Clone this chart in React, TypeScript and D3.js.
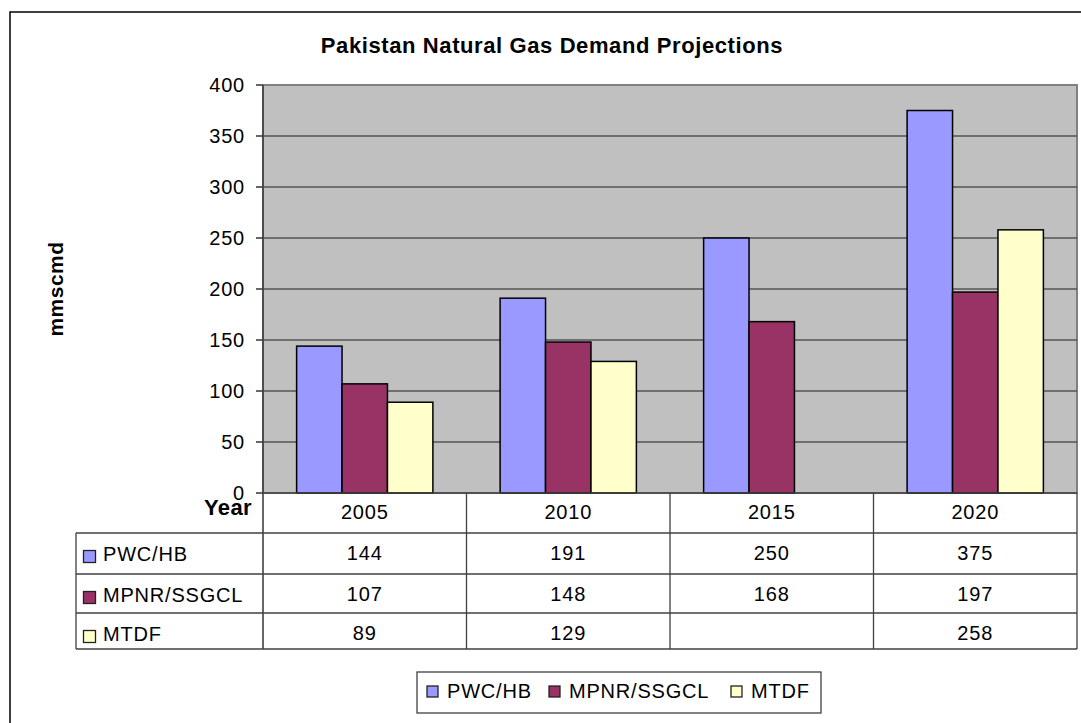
import * as d3 from "d3";

const YEARS = ["2005", "2010", "2015", "2020"];
const SERIES = ["PWC/HB", "MPNR/SSGCL", "MTDF"];
const PWC_HB = [144, 191, 250, 375];
const MPNR_SSGCL = [107, 148, 168, 197];
const MTDF: (number | null)[] = [89, 129, null, 258];
const COLORS = ["#9999FF", "#993366", "#FFFFCC"];

const TITLE = "Pakistan Natural Gas Demand Projections";
const Y_LABEL = "mmscmd";

const FONT = "'Liberation Sans', Arial, sans-serif";

// plot area (px)
const PLOT = { left: 263, right: 1077, top: 85, bottom: 493 };
const ROWS = [493, 533, 574, 613, 649]; // table row edges
const TABLE_LEFT = 76;
const LEGEND = { x: 417, y: 672, w: 404, h: 41, items: [427, 549, 731] };

export default function App() {
  const values = [PWC_HB, MPNR_SSGCL, MTDF];

  const yScale = d3.scaleLinear().domain([0, 400]).range([PLOT.bottom, PLOT.top]);
  const xScale = d3.scaleBand().domain(YEARS).range([PLOT.left, PLOT.right]).padding(0);
  const inner = d3
    .scaleBand()
    .domain(SERIES)
    .range([0, xScale.bandwidth()])
    .paddingInner(0)
    .paddingOuter(0.74);

  const ticks = yScale.ticks(8);

  return (
    <div style={{ position: "absolute", left: 0, top: 0 }}>
      <svg width={1081} height={723} style={{ display: "block", fontFamily: FONT }}>
        <rect x={0} y={0} width={1081} height={723} fill="#fff" />
        {/* outer frame, runs off the right and bottom edges */}
        <rect x={10} y={12} width={1200} height={900} fill="none" stroke="#000" strokeWidth={1.5} />

        <text x={552} y={53} textAnchor="middle" fontSize={22} fontWeight="bold" letterSpacing={0.6}>
          {TITLE}
        </text>

        <text
          transform={`translate(63,${(PLOT.top + PLOT.bottom) / 2}) rotate(-90)`}
          textAnchor="middle"
          fontSize={21}
          fontWeight="bold"
          letterSpacing={0.5}
        >
          {Y_LABEL}
        </text>

        {/* plot area */}
        <rect
          x={PLOT.left}
          y={PLOT.top}
          width={PLOT.right - PLOT.left}
          height={PLOT.bottom - PLOT.top}
          fill="#C0C0C0"
          stroke="#808080"
          strokeWidth={2}
        />
        {ticks
          .filter((t) => t > 0 && t < 400)
          .map((t) => (
            <line key={t} x1={PLOT.left} x2={PLOT.right} y1={yScale(t)} y2={yScale(t)} stroke="#555" strokeWidth={1.6} />
          ))}

        {/* bars */}
        {values.map((arr, si) => (
          <g key={SERIES[si]}>
            {arr.map((v, i) =>
              v == null ? null : (
                <rect
                  key={i}
                  x={(xScale(YEARS[i]) as number) + (inner(SERIES[si]) as number)}
                  y={yScale(v)}
                  width={inner.bandwidth()}
                  height={yScale(0) - yScale(v)}
                  fill={COLORS[si]}
                  stroke="#000"
                  strokeWidth={1.5}
                />
              )
            )}
          </g>
        ))}

        {/* y axis */}
        <line x1={PLOT.left} x2={PLOT.left} y1={PLOT.top} y2={ROWS[ROWS.length - 1]} stroke="#404040" strokeWidth={1.6} />
        {ticks.map((t) => (
          <g key={t}>
            <line x1={PLOT.left - 7} x2={PLOT.left} y1={yScale(t)} y2={yScale(t)} stroke="#404040" strokeWidth={1.6} />
            <text x={245} y={yScale(t) + 7} textAnchor="end" fontSize={20} letterSpacing={0.8}>
              {t}
            </text>
          </g>
        ))}

        {/* data table */}
        <line x1={PLOT.left} x2={PLOT.right} y1={ROWS[0]} y2={ROWS[0]} stroke="#404040" strokeWidth={1.6} />
        {ROWS.slice(1).map((r) => (
          <line key={r} x1={TABLE_LEFT} x2={PLOT.right} y1={r} y2={r} stroke="#404040" strokeWidth={1.3} />
        ))}
        <line x1={TABLE_LEFT} x2={TABLE_LEFT} y1={ROWS[1]} y2={ROWS[4]} stroke="#404040" strokeWidth={1.3} />
        {YEARS.map((y) => (
          <line
            key={y}
            x1={(xScale(y) as number) + xScale.bandwidth()}
            x2={(xScale(y) as number) + xScale.bandwidth()}
            y1={ROWS[0]}
            y2={ROWS[4]}
            stroke="#404040"
            strokeWidth={1.3}
          />
        ))}
        <text x={252} y={515} textAnchor="end" fontSize={22} fontWeight="bold" letterSpacing={0.4}>
          Year
        </text>
        {YEARS.map((y) => (
          <text
            key={y}
            x={(xScale(y) as number) + xScale.bandwidth() / 2}
            y={ROWS[0] + 26}
            textAnchor="middle"
            fontSize={20}
            letterSpacing={0.8}
          >
            {y}
          </text>
        ))}
        {SERIES.map((s, si) => (
          <g key={s}>
            <rect
              x={83.5}
              y={ROWS[si + 1] + 17.5}
              width={12}
              height={12}
              fill={COLORS[si]}
              stroke="#222"
              strokeWidth={1.3}
            />
            <text x={103} y={ROWS[si + 1] + 28} fontSize={20} letterSpacing={0.8}>
              {s}
            </text>
            {values[si].map((v, i) =>
              v == null ? null : (
                <text
                  key={i}
                  x={(xScale(YEARS[i]) as number) + xScale.bandwidth() / 2}
                  y={ROWS[si + 1] + 27}
                  textAnchor="middle"
                  fontSize={20}
                  letterSpacing={0.8}
                >
                  {v}
                </text>
              )
            )}
          </g>
        ))}

        {/* legend */}
        <rect x={LEGEND.x} y={LEGEND.y} width={LEGEND.w} height={LEGEND.h} fill="#fff" stroke="#404040" strokeWidth={1.3} />
        {SERIES.map((s, si) => (
          <g key={s}>
            <rect
              x={LEGEND.items[si]}
              y={686}
              width={11}
              height={11}
              fill={COLORS[si]}
              stroke="#222"
              strokeWidth={1.3}
            />
            <text x={LEGEND.items[si] + 20} y={698} fontSize={20} letterSpacing={0.8}>
              {s}
            </text>
          </g>
        ))}
      </svg>
    </div>
  );
}
